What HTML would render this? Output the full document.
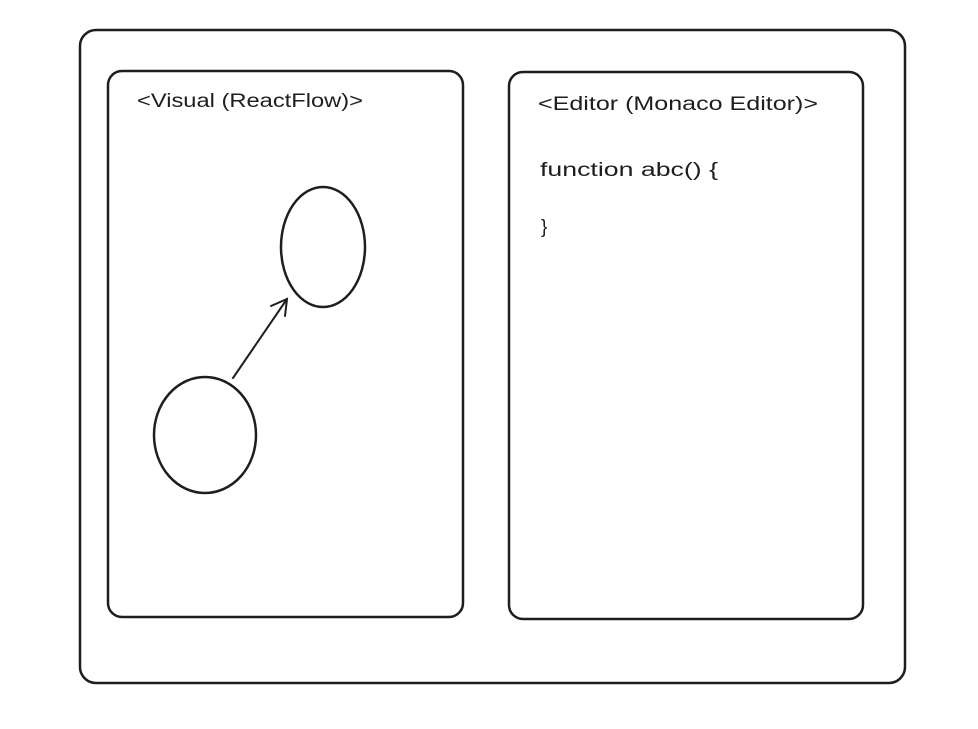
<!DOCTYPE html>
<html><head><meta charset="utf-8"><style>
html,body{margin:0;padding:0;background:#fff;width:978px;height:729px;overflow:hidden}
svg{display:block}
text{font-family:"Liberation Sans",sans-serif;fill:#1e1e1e}
</style></head><body>
<svg width="978" height="729" viewBox="0 0 978 729">
<rect x="80" y="30" width="825" height="653" rx="16" fill="none" stroke="#1e1e1e" stroke-width="2.5"/>
<rect x="108" y="71" width="355" height="546" rx="14" fill="none" stroke="#1e1e1e" stroke-width="2.5"/>
<rect x="509" y="72" width="354" height="547" rx="14" fill="none" stroke="#1e1e1e" stroke-width="2.5"/>
<text x="137" y="107" font-size="19" textLength="226" lengthAdjust="spacingAndGlyphs">&lt;Visual (ReactFlow)&gt;</text>
<text x="538" y="110" font-size="19" textLength="280" lengthAdjust="spacingAndGlyphs">&lt;Editor (Monaco Editor)&gt;</text>
<text x="540" y="176" font-size="19" textLength="178" lengthAdjust="spacingAndGlyphs">function abc() {</text>
<text x="541" y="233" font-size="19">}</text>
<ellipse cx="323" cy="247" rx="42" ry="60" fill="none" stroke="#1e1e1e" stroke-width="2.5"/>
<ellipse cx="205" cy="435" rx="51" ry="58" fill="none" stroke="#1e1e1e" stroke-width="2.5"/>
<g stroke="#1e1e1e" stroke-width="2" fill="none" stroke-linecap="round">
<line x1="233" y1="378" x2="287" y2="299"/>
<polyline points="271,306 287,299 285,316"/>
</g>
</svg>
</body></html>
